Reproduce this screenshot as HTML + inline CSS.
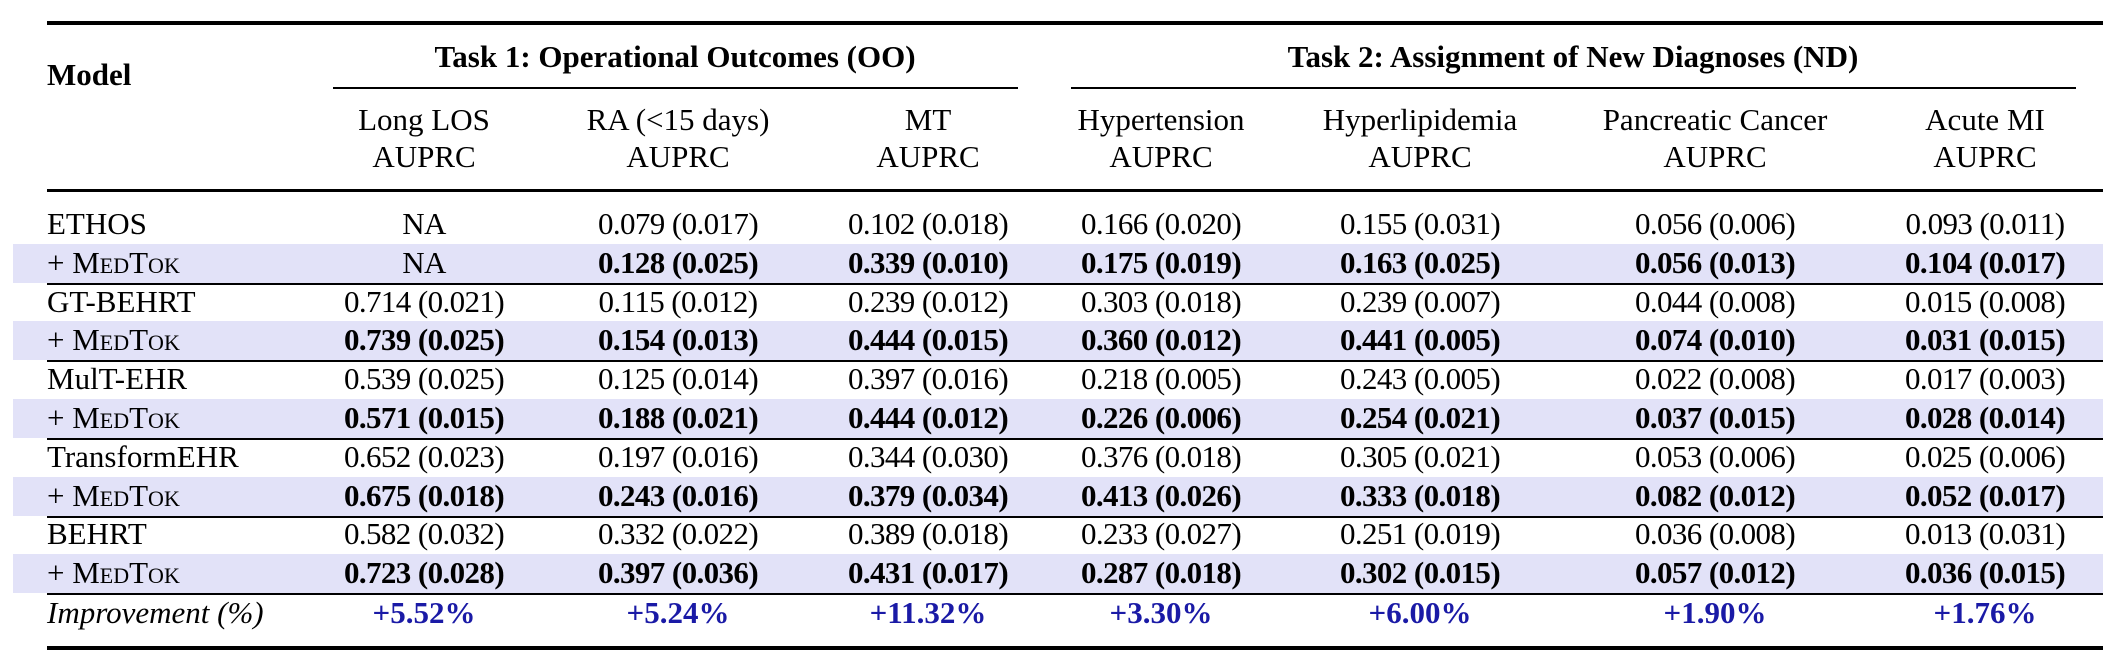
<!DOCTYPE html>
<html><head><meta charset="utf-8">
<style>
html,body{margin:0;padding:0;background:#fff;}
#t{position:relative;width:2120px;height:665px;overflow:hidden;font-family:"Liberation Serif","Times New Roman",serif;font-size:31px;color:#000;}
.c{position:absolute;white-space:nowrap;height:40px;line-height:40px;transform:translateX(-50%);}
.l{position:absolute;white-space:nowrap;height:40px;line-height:40px;}
.n{letter-spacing:-0.6px;}
.b{font-weight:bold;}
.rule{position:absolute;background:#000;}
.hl{position:absolute;background:#e2e2f8;}
.sc{font-variant:small-caps;}
.imp{color:#1a1aa6;font-weight:bold;}
</style></head>
<body>
<div id="t">
  <div class="rule" style="left:47px;width:2056px;top:21px;height:4px;"></div>
  <div class="l b" style="left:47px;top:55px;">Model</div>
  <div class="c b" style="left:675px;top:37px;">Task 1: Operational Outcomes (OO)</div>
  <div class="c b" style="left:1573px;top:37px;">Task 2: Assignment of New Diagnoses (ND)</div>
  <div class="rule" style="left:333px;width:685px;top:87px;height:1.5px;"></div>
  <div class="rule" style="left:1071px;width:1005px;top:87px;height:1.5px;"></div>
  <div class="rule" style="left:47px;width:2056px;top:189px;height:2.5px;"></div>
  <div class="rule" style="left:47px;width:2056px;top:646px;height:4px;"></div>
</div>
<script>
const colCenters = [424, 678, 928, 1161, 1420, 1715, 1985];
const colNames = ["Long LOS", "RA (<15 days)", "MT", "Hypertension", "Hyperlipidemia", "Pancreatic Cancer", "Acute MI"];
const models = ["ETHOS", "GT-BEHRT", "MulT-EHR", "TransformEHR", "BEHRT"];
const baseVals = [
 ["NA","0.079 (0.017)","0.102 (0.018)","0.166 (0.020)","0.155 (0.031)","0.056 (0.006)","0.093 (0.011)"],
 ["0.714 (0.021)","0.115 (0.012)","0.239 (0.012)","0.303 (0.018)","0.239 (0.007)","0.044 (0.008)","0.015 (0.008)"],
 ["0.539 (0.025)","0.125 (0.014)","0.397 (0.016)","0.218 (0.005)","0.243 (0.005)","0.022 (0.008)","0.017 (0.003)"],
 ["0.652 (0.023)","0.197 (0.016)","0.344 (0.030)","0.376 (0.018)","0.305 (0.021)","0.053 (0.006)","0.025 (0.006)"],
 ["0.582 (0.032)","0.332 (0.022)","0.389 (0.018)","0.233 (0.027)","0.251 (0.019)","0.036 (0.008)","0.013 (0.031)"]
];
const medtokVals = [
 ["NA","0.128 (0.025)","0.339 (0.010)","0.175 (0.019)","0.163 (0.025)","0.056 (0.013)","0.104 (0.017)"],
 ["0.739 (0.025)","0.154 (0.013)","0.444 (0.015)","0.360 (0.012)","0.441 (0.005)","0.074 (0.010)","0.031 (0.015)"],
 ["0.571 (0.015)","0.188 (0.021)","0.444 (0.012)","0.226 (0.006)","0.254 (0.021)","0.037 (0.015)","0.028 (0.014)"],
 ["0.675 (0.018)","0.243 (0.016)","0.379 (0.034)","0.413 (0.026)","0.333 (0.018)","0.082 (0.012)","0.052 (0.017)"],
 ["0.723 (0.028)","0.397 (0.036)","0.431 (0.017)","0.287 (0.018)","0.302 (0.015)","0.057 (0.012)","0.036 (0.015)"]
];
const improvements = ["+5.52%","+5.24%","+11.32%","+3.30%","+6.00%","+1.90%","+1.76%"];

const T = document.getElementById('t');
const ROW0 = 224, PITCH = 38.8;
function rowY(i){ return ROW0 + i*PITCH; }
function add(cls, txt, x, cy, html){
  const d = document.createElement('div');
  d.className = cls;
  d.style.left = x + 'px';
  d.style.top = (cy - 20) + 'px';
  if (html) d.innerHTML = txt; else d.textContent = txt;
  T.appendChild(d);
  return d;
}
colNames.forEach((n, j) => {
  const a = add('c', n, colCenters[j], 120);
  
  
  const b = add('c', 'AUPRC', colCenters[j], 157);
  
  
});
models.forEach((m, i) => {
  const yb = rowY(2*i), ym = rowY(2*i+1);
  const h = document.createElement('div');
  h.className = 'hl';
  h.style.left = '13px'; h.style.width = '2090px';
  h.style.top = (ym - 19) + 'px'; h.style.height = '39px';
  
  
  T.appendChild(h);
  const r = document.createElement('div');
  r.className = 'rule';
  r.style.left = '47px'; r.style.width = '2056px';
  r.style.top = (ym + 20) + 'px'; r.style.height = '2px';
  
  
  T.appendChild(r);
  const ml = add('l', m, 47, yb);
  
  
  const mt = add('l', '+ <span class="sc">MedTok</span>', 47, ym, true);
  
  
  baseVals[i].forEach((v, j) => {
    const c = add('c n', v, colCenters[j], yb);
    
    
  });
  medtokVals[i].forEach((v, j) => {
    const c = add(v === 'NA' ? 'c n' : 'c n b', v, colCenters[j], ym);
    
    
  });
});
const il = add('l', '<i>Improvement (%)</i>', 47, 613, true);


improvements.forEach((v, j) => {
  const c = add('c imp', v, colCenters[j], 613);
  
  
});
</script>
</body></html>
